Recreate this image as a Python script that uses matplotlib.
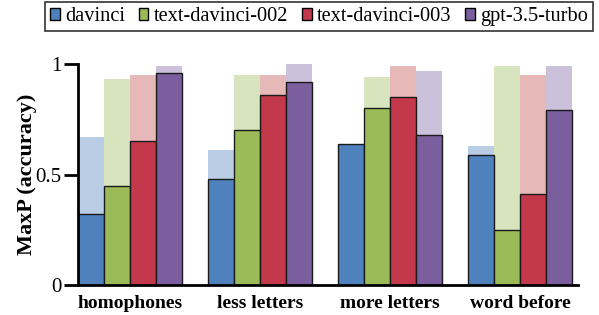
import matplotlib
matplotlib.use("Agg")
import matplotlib.pyplot as plt
import numpy as np
from matplotlib.patches import Patch

categories = ["homophones", "less letters", "more letters", "word before"]
models = ["davinci", "text-davinci-002", "text-davinci-003", "gpt-3.5-turbo"]
# solid (MaxP accuracy) values per model, per category
davinci = [0.32, 0.48, 0.64, 0.59]
td002 = [0.45, 0.70, 0.80, 0.25]
td003 = [0.65, 0.86, 0.85, 0.41]
gpt35 = [0.96, 0.92, 0.68, 0.79]
# faded (upper) values per model, per category
davinci_hi = [0.67, 0.61, 0.64, 0.63]
td002_hi = [0.93, 0.95, 0.94, 0.99]
td003_hi = [0.95, 0.95, 0.99, 0.95]
gpt35_hi = [0.99, 1.00, 0.97, 0.99]

solid = [davinci, td002, td003, gpt35]
faded = [davinci_hi, td002_hi, td003_hi, gpt35_hi]
colors = ["#4F81BD", "#9BBB59", "#C3384A", "#7B5E9E"]
light = ["#B9CDE5", "#D7E4BD", "#E6B9B8", "#CCC1DA"]

plt.rcParams['font.family'] = ['Liberation Serif', 'DejaVu Serif']

fig = plt.figure(figsize=(5.99, 3.15), dpi=100)
ax = fig.add_axes([78/599, 1-285/315, 500/599, (285-64)/315])

x = np.arange(len(categories))
w = 0.2
for j in range(4):
    pos = x + (j - 1.5) * w
    ax.bar(pos, faded[j], width=w, color=light[j], edgecolor='none', zorder=1)
    ax.bar(pos, solid[j], width=w, color=colors[j], edgecolor='#1a1a1a', linewidth=1.0, zorder=2)

ax.set_xlim(-0.4, 3.446)
ax.set_ylim(0, 1)
ax.set_yticks([0, 0.5, 1])
ax.set_yticklabels(["0", "0.5", "1"], fontsize=15)
ax.set_xticks(x)
ax.set_xticklabels(categories, fontsize=14, fontweight='bold')
ax.tick_params(axis='x', length=0, pad=7)
ax.tick_params(axis='y', length=10, width=2, direction='out', pad=2)
for s in ['top', 'right']:
    ax.spines[s].set_visible(False)
for s in ['left', 'bottom']:
    ax.spines[s].set_linewidth(2)
ax.spines['left'].set_bounds(0, 1)
ax.set_ylabel("MaxP (accuracy)", fontsize=16, fontweight='bold')
ax.yaxis.set_label_coords(-0.082, 0.5)

handles = [Patch(facecolor=colors[j], edgecolor='black', linewidth=1.0) for j in range(4)]
leg = fig.legend(handles, models, loc='upper right', bbox_to_anchor=(593/599, 1-2/315),
                 ncol=4, fontsize=14.7, frameon=True, fancybox=False, edgecolor='black',
                 handlelength=0.48, handleheight=0.48, handletextpad=0.25, columnspacing=0.68,
                 borderpad=0.25, borderaxespad=0)
leg.get_frame().set_linewidth(1.2)

fig.savefig("out.png", dpi=100)
